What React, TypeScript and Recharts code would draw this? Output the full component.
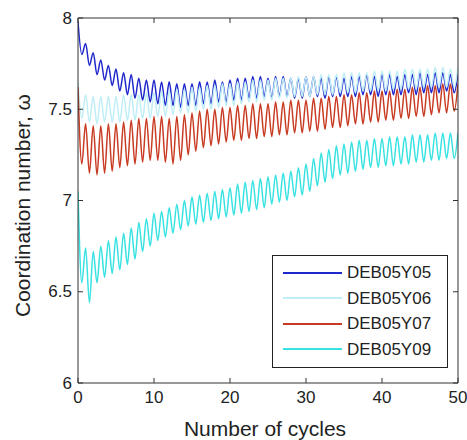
import React from 'react';
import { LineChart, Line, XAxis, YAxis, Legend } from 'recharts';

const cycles = [
  0, 0.5, 1, 1.5, 2, 2.5, 3, 3.5, 4, 4.5,
  5, 5.5, 6, 6.5, 7, 7.5, 8, 8.5, 9, 9.5,
  10, 10.5, 11, 11.5, 12, 12.5, 13, 13.5, 14, 14.5,
  15, 15.5, 16, 16.5, 17, 17.5, 18, 18.5, 19, 19.5,
  20, 20.5, 21, 21.5, 22, 22.5, 23, 23.5, 24, 24.5,
  25, 25.5, 26, 26.5, 27, 27.5, 28, 28.5, 29, 29.5,
  30, 30.5, 31, 31.5, 32, 32.5, 33, 33.5, 34, 34.5,
  35, 35.5, 36, 36.5, 37, 37.5, 38, 38.5, 39, 39.5,
  40, 40.5, 41, 41.5, 42, 42.5, 43, 43.5, 44, 44.5,
  45, 45.5, 46, 46.5, 47, 47.5, 48, 48.5, 49, 49.5,
  50,
];

const deb05y05 = [
  7.98, 7.80, 7.86, 7.74, 7.81, 7.69, 7.77, 7.66, 7.74, 7.63,
  7.72, 7.60, 7.70, 7.58, 7.69, 7.56, 7.67, 7.55, 7.66, 7.54,
  7.66, 7.53, 7.65, 7.52, 7.65, 7.52, 7.64, 7.51, 7.64, 7.52,
  7.64, 7.52, 7.65, 7.53, 7.65, 7.53, 7.66, 7.54, 7.65, 7.54,
  7.66, 7.55, 7.67, 7.55, 7.67, 7.56, 7.68, 7.56, 7.68, 7.57,
  7.67, 7.56, 7.68, 7.57, 7.68, 7.57, 7.67, 7.56, 7.67, 7.56,
  7.68, 7.57, 7.68, 7.57, 7.67, 7.56, 7.68, 7.57, 7.68, 7.57,
  7.67, 7.57, 7.68, 7.57, 7.68, 7.58, 7.69, 7.58, 7.68, 7.57,
  7.69, 7.58, 7.69, 7.58, 7.68, 7.58, 7.69, 7.59, 7.69, 7.58,
  7.70, 7.59, 7.69, 7.59, 7.70, 7.59, 7.70, 7.60, 7.69, 7.59,
  7.70,
];

const deb05y06 = [
  7.65, 7.45, 7.58, 7.43, 7.57, 7.42, 7.57, 7.43, 7.57, 7.43,
  7.57, 7.43, 7.58, 7.44, 7.58, 7.44, 7.58, 7.45, 7.59, 7.45,
  7.59, 7.46, 7.60, 7.46, 7.60, 7.47, 7.61, 7.48, 7.61, 7.48,
  7.62, 7.49, 7.62, 7.50, 7.63, 7.50, 7.63, 7.51, 7.64, 7.52,
  7.64, 7.52, 7.65, 7.53, 7.65, 7.54, 7.66, 7.54, 7.66, 7.55,
  7.66, 7.55, 7.67, 7.56, 7.67, 7.56, 7.67, 7.57, 7.68, 7.57,
  7.68, 7.57, 7.68, 7.58, 7.69, 7.58, 7.69, 7.58, 7.69, 7.59,
  7.70, 7.59, 7.70, 7.59, 7.70, 7.60, 7.70, 7.60, 7.71, 7.60,
  7.71, 7.60, 7.71, 7.61, 7.71, 7.61, 7.72, 7.61, 7.72, 7.61,
  7.72, 7.62, 7.72, 7.62, 7.73, 7.62, 7.73, 7.62, 7.72, 7.62,
  7.73,
];

const deb05y07 = [
  7.62, 7.20, 7.42, 7.15, 7.41, 7.14, 7.41, 7.15, 7.42, 7.16,
  7.42, 7.18, 7.43, 7.19, 7.44, 7.20, 7.45, 7.21, 7.45, 7.22,
  7.46, 7.22, 7.46, 7.21, 7.45, 7.20, 7.46, 7.22, 7.47, 7.25,
  7.48, 7.27, 7.49, 7.29, 7.50, 7.30, 7.50, 7.31, 7.51, 7.32,
  7.51, 7.33, 7.52, 7.33, 7.52, 7.34, 7.53, 7.34, 7.53, 7.35,
  7.53, 7.35, 7.54, 7.36, 7.54, 7.36, 7.55, 7.37, 7.55, 7.37,
  7.55, 7.38, 7.56, 7.38, 7.56, 7.39, 7.57, 7.40, 7.57, 7.40,
  7.58, 7.41, 7.58, 7.42, 7.59, 7.42, 7.59, 7.43, 7.60, 7.43,
  7.60, 7.44, 7.60, 7.44, 7.61, 7.45, 7.61, 7.45, 7.62, 7.46,
  7.62, 7.46, 7.63, 7.47, 7.63, 7.48, 7.64, 7.48, 7.64, 7.49,
  7.64,
];

const deb05y09 = [
  7.05, 6.55, 6.74, 6.44, 6.72, 6.55, 6.75, 6.58, 6.78, 6.60,
  6.80, 6.62, 6.82, 6.65, 6.85, 6.68, 6.88, 6.72, 6.90, 6.75,
  6.93, 6.78, 6.94, 6.80, 6.96, 6.82, 6.98, 6.84, 7.00, 6.86,
  7.02, 6.87, 7.03, 6.88, 7.04, 6.89, 7.05, 6.90, 7.06, 6.91,
  7.07, 6.92, 7.09, 6.93, 7.10, 6.94, 7.11, 6.95, 7.12, 6.96,
  7.13, 6.98, 7.14, 6.99, 7.15, 7.00, 7.16, 7.02, 7.18, 7.03,
  7.20, 7.05, 7.23, 7.08, 7.26, 7.10, 7.28, 7.12, 7.30, 7.14,
  7.31, 7.15, 7.32, 7.16, 7.33, 7.17, 7.33, 7.18, 7.34, 7.18,
  7.34, 7.19, 7.35, 7.19, 7.35, 7.20, 7.35, 7.20, 7.36, 7.21,
  7.36, 7.21, 7.36, 7.22, 7.37, 7.22, 7.37, 7.23, 7.37, 7.23,
  7.37,
];

const seriesNames = ['DEB05Y05', 'DEB05Y06', 'DEB05Y07', 'DEB05Y09'];
const seriesValues = [deb05y05, deb05y06, deb05y07, deb05y09];
const seriesColors = ['#2028cc', '#bfeef6', '#c93a22', '#38e2e2'];
const xTicks = [0, 10, 20, 30, 40, 50];
const yTicks = [6, 6.5, 7, 7.5, 8];

const data = cycles.map((c, i) => {
  const row: Record<string, number> = { cycle: c };
  seriesNames.forEach((n, k) => {
    row[n] = seriesValues[k][i];
  });
  return row;
});

const FONT = '"Liberation Sans", Arial, Helvetica, sans-serif';
const AX = '#333';
const TICK_LEN = 5;

const BottomTick = (props: any) => {
  const { x, y, payload } = props;
  return (
    <g>
      <line x1={x} y1={y} x2={x} y2={y - TICK_LEN} stroke={AX} strokeWidth={1} />
      <text x={x} y={y + 14} textAnchor="middle" dominantBaseline="central" fontSize={17} fontFamily={FONT} fill="#222">
        {payload.value}
      </text>
    </g>
  );
};

const TopTick = (props: any) => {
  const { x, y } = props;
  return <line x1={x} y1={y} x2={x} y2={y + TICK_LEN} stroke={AX} strokeWidth={1} />;
};

const LeftTick = (props: any) => {
  const { x, y, payload } = props;
  return (
    <g>
      <line x1={x} y1={y} x2={x + TICK_LEN} y2={y} stroke={AX} strokeWidth={1} />
      <text x={x - 6} y={y} textAnchor="end" dominantBaseline="central" fontSize={17} fontFamily={FONT} fill="#222">
        {payload.value}
      </text>
    </g>
  );
};

const RightTick = (props: any) => {
  const { x, y } = props;
  return <line x1={x} y1={y} x2={x - TICK_LEN} y2={y} stroke={AX} strokeWidth={1} />;
};

const renderLegend = (props: any) => {
  const payload = props.payload || [];
  return (
    <div
      style={{
        width: 176,
        height: 113,
        boxSizing: 'border-box',
        border: '1px solid #222',
        background: '#fff',
        paddingTop: 4,
        fontFamily: FONT,
        fontSize: 17,
        color: '#222',
      }}
    >
      {payload.map((p: any) => (
        <div key={p.value} style={{ display: 'flex', alignItems: 'center', height: 25.5 }}>
          <svg width={59} height={4} style={{ marginLeft: 10, marginRight: 5, display: 'block' }}>
            <line x1={0} y1={2} x2={59} y2={2} stroke={p.color} strokeWidth={2} />
          </svg>
          <span style={{ lineHeight: '25.5px' }}>{p.value}</span>
        </div>
      ))}
    </div>
  );
};

const yLabel = (props: any) => {
  const vb = props.viewBox || { x: 0, y: 18, width: 78, height: 365 };
  const cx = vb.x + 22;
  const cy = vb.y + vb.height / 2 + 5;
  return (
    <text
      x={cx}
      y={cy}
      transform={`rotate(-90, ${cx}, ${cy})`}
      textAnchor="middle"
      dominantBaseline="central"
      fontSize={21}
      fontFamily={FONT}
      fill="#222"
    >
      Coordination number, ω
    </text>
  );
};

const xLabel = (props: any) => {
  const vb = props.viewBox || { x: 78, y: 383, width: 380, height: 57 };
  const cx = vb.x + vb.width / 2 - 3;
  const cy = vb.y + 45;
  return (
    <text x={cx} y={cy} textAnchor="middle" dominantBaseline="central" fontSize={21} fontFamily={FONT} fill="#222">
      Number of cycles
    </text>
  );
};

export default function App() {
  return (
    <div style={{ position: 'absolute', left: 0, top: 0, background: '#fff' }}>
      <LineChart width={467} height={440} data={data} margin={{ top: 0, right: 0, bottom: 0, left: 0 }}>
        <XAxis
          xAxisId="bottom"
          dataKey="cycle"
          type="number"
          domain={[0, 50]}
          allowDataOverflow
          ticks={xTicks}
          interval={0}
          height={57}
          tickSize={0}
          tickMargin={0}
          tickLine={false}
          axisLine={{ stroke: AX, strokeWidth: 1 }}
          tick={<BottomTick />}
          label={{ content: xLabel }}
        />
        <XAxis
          xAxisId="top"
          orientation="top"
          dataKey="cycle"
          type="number"
          domain={[0, 50]}
          allowDataOverflow
          ticks={xTicks}
          interval={0}
          height={18}
          tickSize={0}
          tickMargin={0}
          tickLine={false}
          axisLine={{ stroke: AX, strokeWidth: 1 }}
          tick={<TopTick />}
        />
        <YAxis
          yAxisId="left"
          type="number"
          domain={[6, 8]}
          allowDataOverflow
          ticks={yTicks}
          interval={0}
          width={78}
          tickSize={0}
          tickMargin={0}
          tickLine={false}
          axisLine={{ stroke: AX, strokeWidth: 1 }}
          tick={<LeftTick />}
          label={{ content: yLabel }}
        />
        <YAxis
          yAxisId="right"
          orientation="right"
          type="number"
          domain={[6, 8]}
          allowDataOverflow
          ticks={yTicks}
          interval={0}
          width={9}
          tickSize={0}
          tickMargin={0}
          tickLine={false}
          axisLine={{ stroke: AX, strokeWidth: 1 }}
          tick={<RightTick />}
        />
        <Legend
          layout="vertical"
          align="center"
          verticalAlign="middle"
          content={renderLegend}
          wrapperStyle={{ position: 'absolute', left: 272, top: 255, width: 176, height: 113 }}
        />
        {seriesNames.map((n, k) => (
          <Line
            key={n}
            xAxisId="bottom"
            yAxisId="left"
            dataKey={n}
            name={n}
            type="monotone"
            stroke={seriesColors[k]}
            strokeWidth={1.5}
            dot={false}
            activeDot={false}
            isAnimationActive={false}
          />
        ))}
      </LineChart>
    </div>
  );
}
